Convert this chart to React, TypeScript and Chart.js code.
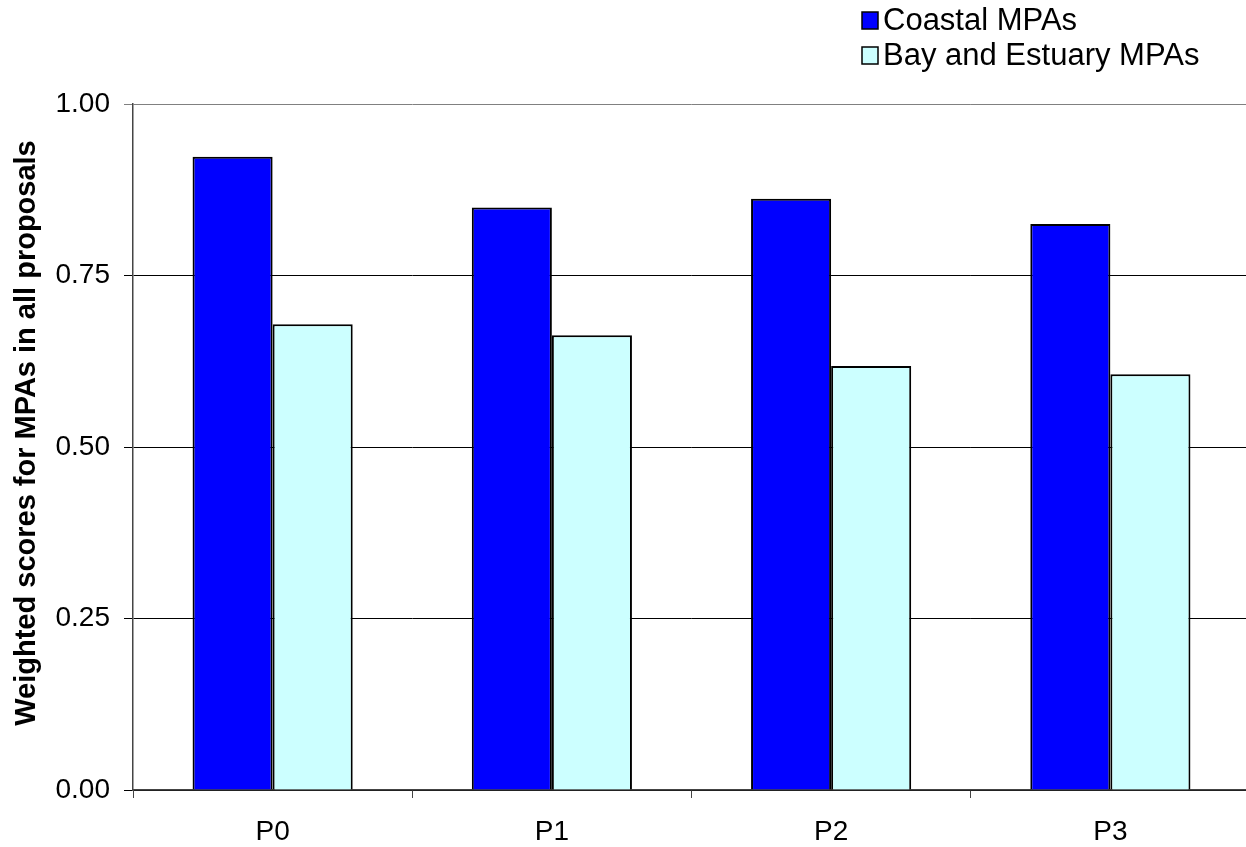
import React, { useEffect, useRef } from "react";
import { Chart, registerables } from "chart.js";

Chart.register(...registerables);

const categories = ["P0", "P1", "P2", "P3"];
const coastalScores = [0.923, 0.849, 0.862, 0.825];
const bayEstuaryScores = [0.679, 0.663, 0.618, 0.606];
const seriesNames = ["Coastal MPAs", "Bay and Estuary MPAs"];
const seriesColors = ["#0000FF", "#CCFFFF"];
const yTickValues = [0, 0.25, 0.5, 0.75, 1];
const yTitle = "Weighted scores for MPAs in all proposals";

const FONT = '"Liberation Sans", Arial, Helvetica, sans-serif';

// Legend stacked in two rows at the upper right, plus the rotated y-axis title
const decorations = {
  id: "decorations",
  afterDraw(chart: any) {
    const ctx = chart.ctx;
    ctx.save();
    ctx.font = `31px ${FONT}`;
    ctx.textBaseline = "middle";
    ctx.textAlign = "left";
    chart.data.datasets.forEach((ds: any, i: number) => {
      const y = 20 + i * 35;
      const bx = 862;
      ctx.fillStyle = ds.backgroundColor;
      ctx.fillRect(bx, y - 8, 16, 17);
      ctx.strokeStyle = "#000";
      ctx.lineWidth = 1.5;
      ctx.strokeRect(bx, y - 8, 16, 17);
      ctx.fillStyle = "#000";
      ctx.fillText(ds.label, bx + 21, y + 1);
    });

    ctx.translate(27, 433);
    ctx.rotate(-Math.PI / 2);
    ctx.textAlign = "center";
    ctx.font = `bold 29px ${FONT}`;
    ctx.fillText(yTitle, 0, 0);
    ctx.restore();
  },
};

export default function App() {
  const canvasRef = useRef<HTMLCanvasElement | null>(null);

  useEffect(() => {
    const canvas = canvasRef.current;
    if (!canvas) return;
    const chart = new Chart(canvas, {
      type: "bar",
      data: {
        labels: categories,
        datasets: [
          {
            label: seriesNames[0],
            data: coastalScores,
            backgroundColor: seriesColors[0],
            borderColor: "#000",
            borderWidth: 2,
          },
          {
            label: seriesNames[1],
            data: bayEstuaryScores,
            backgroundColor: seriesColors[1],
            borderColor: "#000",
            borderWidth: 2,
          },
        ],
      },
      options: {
        responsive: false,
        animation: false,
        events: [],
        layout: { padding: { top: 104, left: 0, right: 0, bottom: 0 } },
        datasets: {
          bar: { categoryPercentage: 0.5735, barPercentage: 1 },
        },
        plugins: {
          legend: { display: false },
          tooltip: { enabled: false },
        },
        scales: {
          x: {
            offset: true,
            grid: {
              offset: true,
              drawOnChartArea: false,
              drawTicks: true,
              tickLength: 8,
              color: "#444",
            },
            border: { color: "#444", width: 1.5 },
            ticks: {
              color: "#000",
              font: { family: FONT, size: 28 },
              padding: 17,
            },
            afterFit(scale: any) {
              scale.height = 57;
            },
          },
          y: {
            min: 0,
            max: 1,
            afterBuildTicks(scale: any) {
              scale.ticks = yTickValues.map((v) => ({ value: v }));
            },
            grid: {
              color: (c: any) => (c.tick && c.tick.value === 1 ? "#808080" : "#000"),
              lineWidth: 1,
              drawTicks: true,
              tickLength: 9,
            },
            border: { color: "#444", width: 1.5 },
            ticks: {
              color: "#000",
              font: { family: FONT, size: 28 },
              padding: 14,
              callback: (v: any) => Number(v).toFixed(2),
            },
            afterFit(scale: any) {
              scale.width = 133;
            },
          },
        },
      },
      plugins: [decorations],
    });
    return () => chart.destroy();
  }, []);

  return (
    <div
      style={{
        position: "fixed",
        left: 0,
        top: 0,
        width: 1246,
        height: 847,
        overflow: "hidden",
        background: "#fff",
      }}
    >
      <canvas ref={canvasRef} width={1250} height={847} />
    </div>
  );
}
